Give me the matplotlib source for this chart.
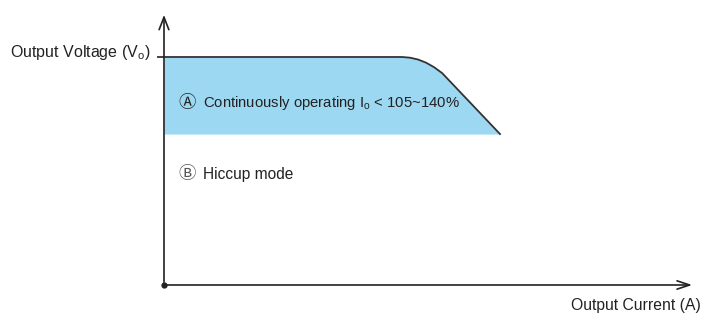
import matplotlib.pyplot as plt

plt.rcParams['font.family'] = ['Liberation Sans', 'DejaVu Sans']
plt.rcParams['mathtext.fontset'] = 'custom'
plt.rcParams['mathtext.rm'] = 'Liberation Sans'
plt.rcParams['mathtext.it'] = 'Liberation Sans'

# normalised current / voltage of the derating curve
current = [0, 0.708, 0.732, 0.756, 0.780, 0.804, 0.828, 1.0]
voltage = [1.0, 1.0, 0.997, 0.989, 0.975, 0.955, 0.929, 0.662]
hiccup_level = 0.662

fig = plt.figure(figsize=(7.02, 3.16), dpi=100)
ax = fig.add_axes([0, 0, 1, 1])
ax.set_xlim(-0.488, 1.601)
ax.set_ylim(-0.136, 1.25)
ax.axis('off')

ax.fill_between(current, hiccup_level, voltage, color='#9dd8f2', lw=0)
ax.plot([-0.018] + current, [1.0] + voltage, color='#333333', lw=1.3)

# axes with open arrow heads
ax.annotate('', xy=(0, 1.197), xytext=(0, 0),
            arrowprops=dict(arrowstyle='->,head_length=0.9,head_width=0.35', color='#222222', lw=1.2))
ax.annotate('', xy=(1.58, 0), xytext=(0, 0),
            arrowprops=dict(arrowstyle='->,head_length=0.9,head_width=0.3', color='#222222', lw=1.2))
ax.plot([0], [0], 'o', color='#222222', ms=3.5)

tc = '#222222'
cjk = ['Noto Sans CJK JP', 'DejaVu Sans']
ax.text(-0.458, 1.02, r'Output Voltage (V$_\mathrm{o}$)', fontsize=11.5, color=tc, va='center', ha='left')
ax.text(0.043, 0.80, '\u24b6', fontsize=12.5, color=tc, va='center', ha='left', family=cjk)
ax.text(0.115, 0.80, 'Continuously operating I$_\\mathrm{o}$ < 105~140%', fontsize=10.7, color=tc,
        va='center', ha='left')
ax.text(0.043, 0.485, '\u24b7', fontsize=12.5, color='#555555', va='center', ha='left', family=cjk)
ax.text(0.115, 0.485, 'Hiccup mode', fontsize=11.2, color=tc, va='center', ha='left')
ax.text(1.597, -0.09, 'Output Current (A)', fontsize=11.3, color=tc, va='center', ha='right')

fig.savefig('out.png', dpi=100)
